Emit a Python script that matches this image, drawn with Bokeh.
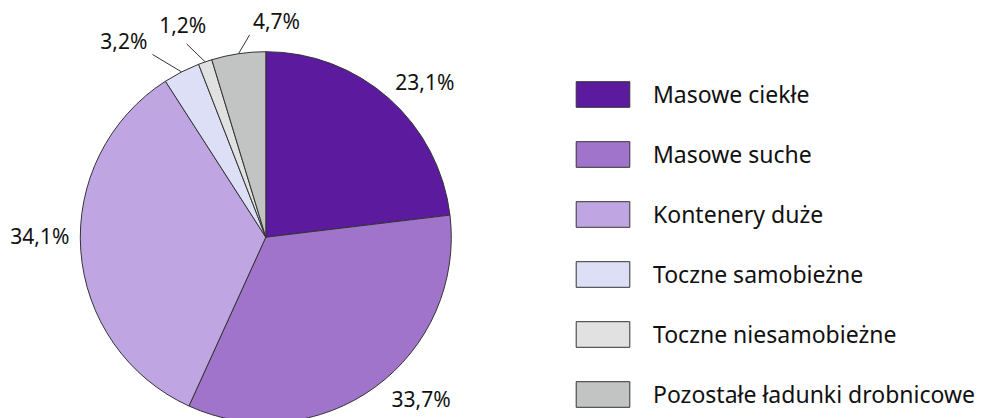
import math
from bokeh.plotting import figure
from bokeh.models import Range1d, Legend, LegendItem, ColumnDataSource
from bokeh.core.properties import value
from bokeh.embed import file_html
from bokeh.resources import INLINE

# ---- data ----
categories = ["Masowe ciekłe", "Masowe suche", "Kontenery duże",
              "Toczne samobieżne", "Toczne niesamobieżne",
              "Pozostałe ładunki drobnicowe"]
shares = [23.1, 33.7, 34.1, 3.2, 1.2, 4.7]
share_labels = ["23,1%", "33,7%", "34,1%", "3,2%", "1,2%", "4,7%"]

# ---- style / layout ----
colors = ["#5C1A9E", "#A074CB", "#BFA6E3", "#DCDFF6", "#E1E1E1", "#C2C3C3"]
outline = "#333333"
FONT = "Noto Sans"
W, H = 982, 418
CX, CY, R = 265.3, 181.3, 185.5
# label placement (radius, angle nudge in degrees) per slice
label_r = [222, 224, 226, 242, 228, 216]
label_nudge = [4.2, -7.7, 4.5, -8.9, -2.3, 11.3]
# leader lines for small slices (index -> (end radius, end angle nudge))
leaders = {3: (215, -4.8), 4: (209, -3.2), 5: (203, 3.9)}

total = sum(shares)
cum = [0.0]
for s in shares:
    cum.append(cum[-1] + s / total)
start = [math.pi / 2 - 2 * math.pi * cum[i] for i in range(len(shares))]
end = [math.pi / 2 - 2 * math.pi * cum[i + 1] for i in range(len(shares))]
mid_deg = [360 * (cum[i] + cum[i + 1]) / 2 for i in range(len(shares))]

p = figure(width=W, height=H, output_backend="svg", toolbar_location=None,
           x_range=Range1d(0, W), y_range=Range1d(0, H), min_border=0)
p.axis.visible = False
p.grid.visible = False
p.outline_line_color = None

items = []
for i, cat in enumerate(categories):
    src = ColumnDataSource(dict(x=[CX], y=[CY], s=[start[i]], e=[end[i]]))
    r = p.wedge(x="x", y="y", radius=R, start_angle="s", end_angle="e",
                direction="clock", fill_color=colors[i], line_color=outline,
                line_width=1, source=src)
    items.append(LegendItem(label=cat, renderers=[r]))

# labels
lx, ly = [], []
for i in range(len(shares)):
    a = math.radians(mid_deg[i] + label_nudge[i])
    lx.append(CX + label_r[i] * math.sin(a))
    ly.append(CY + label_r[i] * math.cos(a))
p.text(x=lx, y=ly, text=share_labels, text_align="center",
       text_baseline="middle", text_font=value(FONT),
       text_font_size="21px", text_color="#111111")

# leader lines
xs0, ys0, xs1, ys1 = [], [], [], []
for i, (er, en) in leaders.items():
    a0 = math.radians(mid_deg[i])
    a1 = math.radians(mid_deg[i] + en)
    xs0.append(CX + R * math.sin(a0)); ys0.append(CY + R * math.cos(a0))
    xs1.append(CX + er * math.sin(a1)); ys1.append(CY + er * math.cos(a1))
p.segment(x0=xs0, y0=ys0, x1=xs1, y1=ys1, line_color=outline, line_width=1)

legend = Legend(items=items, location=(569, 8), orientation="vertical",
                glyph_width=67, glyph_height=32, label_height=26,
                spacing=28, padding=0, margin=0, label_standoff=17,
                label_text_font=FONT, label_text_font_size="23px",
                label_text_color="#111111", border_line_alpha=0,
                background_fill_alpha=0)
p.add_layout(legend, "center")

open("out.html", "w").write(file_html(p, INLINE))
